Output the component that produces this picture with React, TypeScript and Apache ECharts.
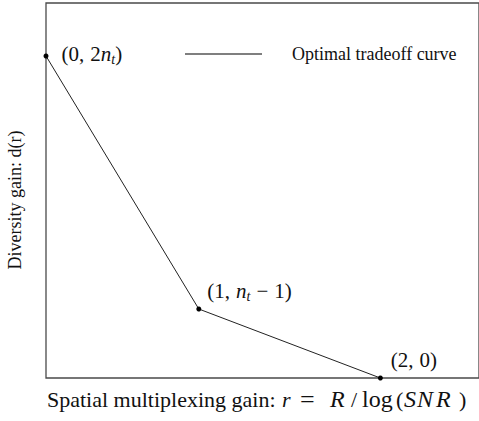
import React, { useEffect, useRef } from "react";
import * as echarts from "echarts";

const xValues = [0, 0.914, 2];
const yValues = [8, 1.714, 0];
const pointLabels = [
  "{p|(0,}{c|2}{i|n}{s|t}{p|)}",
  "{p|(1,}{c|}{i|n}{s|t}{m|−}{p|1)}",
  "{p|(2,}{c|0)}",
];
const labelOffsets = [
  [13, -2],
  [6, -18],
  [8, -18],
];
const seriesName = "Optimal tradeoff curve";
const xName = "Spatial multiplexing gain:";
const yName = "Diversity gain: d(r)";
// pieces of the math part of the x-axis title: [text, left, italic, size]
const xMath: [string, number, boolean, number][] = [
  ["r", 282, true, 22],
  ["=", 300, false, 26],
  ["R", 330, true, 24],
  ["/", 351, false, 22],
  ["log", 362, false, 24],
  ["(", 396, false, 22],
  ["S", 404, true, 24],
  ["N", 417, true, 24],
  ["R", 436, true, 24],
  [")", 459, false, 22],
];

const SERIF = "'Liberation Serif', 'Times New Roman', serif";
const AXIS_COLOR = "#4a4a4a";

export default function App() {
  const ref = useRef<HTMLDivElement>(null);
  useEffect(() => {
    const chart = echarts.init(ref.current!, null, { renderer: "svg" });
    const base = { fontFamily: SERIF, color: "#111" };
    const rich = {
      p: { ...base, fontSize: 21 },
      c: { ...base, fontSize: 21, padding: [0, 0, 0, 6] },
      i: { ...base, fontSize: 21, fontStyle: "italic" },
      m: { ...base, fontSize: 21, padding: [0, 6, 0, 6] },
      s: {
        ...base,
        fontSize: 14,
        fontStyle: "italic",
        verticalAlign: "bottom",
        padding: [10, 0, 0, 0],
      },
    };
    const axisCommon = {
      axisLine: { show: false },
      axisTick: { show: false },
      axisLabel: { show: false },
      splitLine: { show: false },
    };
    chart.setOption({
      animation: false,
      grid: {
        left: 46,
        right: -3,
        top: 3,
        bottom: 43,
        show: true,
        borderColor: AXIS_COLOR,
        borderWidth: 1.3,
      },
      xAxis: { type: "value", min: 0, max: 2.59, ...axisCommon },
      yAxis: { type: "value", min: 0, max: 9.317, ...axisCommon },
      legend: {
        left: 180,
        top: 40,
        icon: "rect",
        itemWidth: 77,
        itemHeight: 1,
        data: [seriesName],
        textStyle: {
          fontFamily: SERIF,
          fontSize: 18,
          color: "#111",
          padding: [16, 0, 0, 25],
        },
      },
      series: [
        {
          name: seriesName,
          type: "line",
          data: xValues.map((x, i) => ({
            value: [x, yValues[i]],
            label: {
              show: true,
              position: "right",
              distance: 0,
              offset: labelOffsets[i],
              formatter: pointLabels[i],
              rich,
            },
          })),
          lineStyle: { color: "#222", width: 1 },
          itemStyle: { color: "#000" },
          symbol: "circle",
          symbolSize: 5,
          showSymbol: true,
          clip: false,
        },
      ],
      graphic: [
        {
          type: "text",
          x: 47,
          y: 399,
          style: {
            text: xName,
            fontFamily: SERIF,
            fontSize: 22,
            fill: "#111",
            verticalAlign: "middle",
          },
        },
        ...xMath.map(([t, x, it, sz]) => ({
          type: "text",
          x,
          y: 399,
          style: {
            text: t,
            fontFamily: SERIF,
            fontSize: sz,
            fontStyle: it ? "italic" : "normal",
            fill: "#111",
            verticalAlign: "middle",
          },
        })),
        {
          type: "text",
          x: 15,
          y: 200,
          rotation: Math.PI / 2,
          style: {
            text: yName,
            fontFamily: SERIF,
            fontSize: 18,
            fill: "#111",
            align: "center",
            verticalAlign: "middle",
          },
        },
      ],
    });
    return () => chart.dispose();
  }, []);
  return (
    <div
      ref={ref}
      style={{ width: 479, height: 421, position: "absolute", left: 0, top: 0 }}
    />
  );
}
